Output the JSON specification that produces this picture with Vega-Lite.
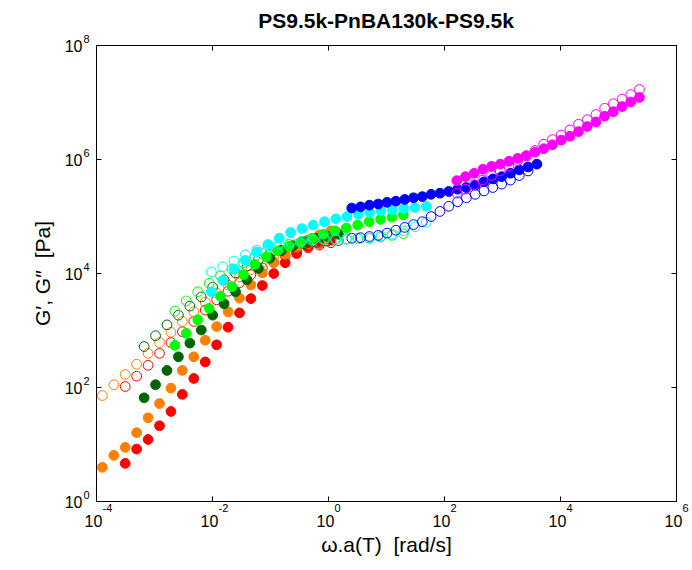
{
  "$schema": "https://vega.github.io/schema/vega-lite/v6.json",
  "width": 580,
  "height": 456,
  "autosize": {"type": "none"},
  "padding": {"left": 96, "top": 45, "right": 16, "bottom": 69},
  "background": "white",
  "title": {"text": "PS9.5k-PnBA130k-PS9.5k", "font": "Liberation Sans", "fontSize": 21, "fontWeight": "bold", "color": "#000", "anchor": "middle", "baseline": "bottom", "offset": 8, "dy": 28},
  "config": {
    "view": {"stroke": "#000", "strokeWidth": 1},
    "axis": {"labelFont": "Liberation Sans", "titleFont": "Liberation Sans", "labelColor": "#000", "titleColor": "#000", "tickColor": "#000", "domainColor": "#000", "grid": false, "labelFlush": false, "labelOverlap": false, "labelBound": false, "titleFontWeight": "normal"}
  },
  "data": {"values": [
    {"set":"red","mod":"G'","w":3.19e-4,"G":4.57},{"set":"red","mod":"G'","w":5.02e-4,"G":8.13},{"set":"red","mod":"G'","w":7.91e-4,"G":12.0},{"set":"red","mod":"G'","w":1.245e-3,"G":20.9},{"set":"red","mod":"G'","w":1.959e-3,"G":37.2},{"set":"red","mod":"G'","w":3.083e-3,"G":74.1},{"set":"red","mod":"G'","w":4.853e-3,"G":141},{"set":"red","mod":"G'","w":7.638e-3,"G":275},{"set":"red","mod":"G'","w":1.202e-2,"G":550},{"set":"red","mod":"G'","w":1.892e-2,"G":1122},{"set":"red","mod":"G'","w":2.979e-2,"G":1995},{"set":"red","mod":"G'","w":4.688e-2,"G":3548},{"set":"red","mod":"G'","w":7.379e-2,"G":6026},{"set":"red","mod":"G'","w":0.1161,"G":9772},{"set":"red","mod":"G'","w":0.1828,"G":15136},{"set":"red","mod":"G'","w":0.2877,"G":21878},{"set":"red","mod":"G'","w":0.4529,"G":28840},{"set":"red","mod":"G'","w":0.7129,"G":33113},{"set":"red","mod":"G'","w":1.122,"G":38019},
    {"set":"red","mod":"G''","w":3.19e-4,"G":102},{"set":"red","mod":"G''","w":5.02e-4,"G":155},{"set":"red","mod":"G''","w":7.91e-4,"G":240},{"set":"red","mod":"G''","w":1.245e-3,"G":389},{"set":"red","mod":"G''","w":1.959e-3,"G":603},{"set":"red","mod":"G''","w":3.083e-3,"G":933},{"set":"red","mod":"G''","w":4.853e-3,"G":1413},{"set":"red","mod":"G''","w":7.638e-3,"G":2239},{"set":"red","mod":"G''","w":1.202e-2,"G":3388},{"set":"red","mod":"G''","w":1.892e-2,"G":4786},{"set":"red","mod":"G''","w":2.979e-2,"G":6761},{"set":"red","mod":"G''","w":4.688e-2,"G":9333},{"set":"red","mod":"G''","w":7.379e-2,"G":12303},{"set":"red","mod":"G''","w":0.1161,"G":15488},{"set":"red","mod":"G''","w":0.1828,"G":19953},{"set":"red","mod":"G''","w":0.2877,"G":23988},{"set":"red","mod":"G''","w":0.4529,"G":27542},{"set":"red","mod":"G''","w":0.7129,"G":30903},{"set":"red","mod":"G''","w":1.122,"G":33884},
    {"set":"orange","mod":"G'","w":1.288e-4,"G":3.89},{"set":"orange","mod":"G'","w":2.028e-4,"G":6.31},{"set":"orange","mod":"G'","w":3.19e-4,"G":8.71},{"set":"orange","mod":"G'","w":5.02e-4,"G":15.8},{"set":"orange","mod":"G'","w":7.91e-4,"G":28.8},{"set":"orange","mod":"G'","w":1.245e-3,"G":51.3},{"set":"orange","mod":"G'","w":1.959e-3,"G":95.5},{"set":"orange","mod":"G'","w":3.083e-3,"G":195},{"set":"orange","mod":"G'","w":4.853e-3,"G":339},{"set":"orange","mod":"G'","w":7.638e-3,"G":661},{"set":"orange","mod":"G'","w":1.202e-2,"G":1148},{"set":"orange","mod":"G'","w":1.892e-2,"G":2089},{"set":"orange","mod":"G'","w":2.979e-2,"G":3631},{"set":"orange","mod":"G'","w":4.688e-2,"G":6166},{"set":"orange","mod":"G'","w":7.379e-2,"G":10000},{"set":"orange","mod":"G'","w":0.1161,"G":15136},{"set":"orange","mod":"G'","w":0.1828,"G":21380},{"set":"orange","mod":"G'","w":0.2877,"G":29512},{"set":"orange","mod":"G'","w":0.4529,"G":38019},{"set":"orange","mod":"G'","w":0.7129,"G":46774},{"set":"orange","mod":"G'","w":1.122,"G":54954},
    {"set":"orange","mod":"G''","w":1.288e-4,"G":70.8},{"set":"orange","mod":"G''","w":2.028e-4,"G":109.6},{"set":"orange","mod":"G''","w":3.19e-4,"G":166},{"set":"orange","mod":"G''","w":5.02e-4,"G":251},{"set":"orange","mod":"G''","w":7.91e-4,"G":389},{"set":"orange","mod":"G''","w":1.245e-3,"G":603},{"set":"orange","mod":"G''","w":1.959e-3,"G":912},{"set":"orange","mod":"G''","w":3.083e-3,"G":1413},{"set":"orange","mod":"G''","w":4.853e-3,"G":2089},{"set":"orange","mod":"G''","w":7.638e-3,"G":3090},{"set":"orange","mod":"G''","w":1.202e-2,"G":4467},{"set":"orange","mod":"G''","w":1.892e-2,"G":6166},{"set":"orange","mod":"G''","w":2.979e-2,"G":8511},{"set":"orange","mod":"G''","w":4.688e-2,"G":11482},{"set":"orange","mod":"G''","w":7.379e-2,"G":15136},{"set":"orange","mod":"G''","w":0.1161,"G":19498},{"set":"orange","mod":"G''","w":0.1828,"G":23988},{"set":"orange","mod":"G''","w":0.2877,"G":28184},{"set":"orange","mod":"G''","w":0.4529,"G":32359},{"set":"orange","mod":"G''","w":0.7129,"G":34674},{"set":"orange","mod":"G''","w":1.122,"G":36308},
    {"set":"darkgreen","mod":"G'","w":6.761e-4,"G":64.6},{"set":"darkgreen","mod":"G'","w":1.064e-3,"G":109.6},{"set":"darkgreen","mod":"G'","w":1.675e-3,"G":195},{"set":"darkgreen","mod":"G'","w":2.636e-3,"G":339},{"set":"darkgreen","mod":"G'","w":4.15e-3,"G":589},{"set":"darkgreen","mod":"G'","w":6.531e-3,"G":1000},{"set":"darkgreen","mod":"G'","w":1.028e-2,"G":1820},{"set":"darkgreen","mod":"G'","w":1.618e-2,"G":2884},{"set":"darkgreen","mod":"G'","w":2.547e-2,"G":4677},{"set":"darkgreen","mod":"G'","w":4.009e-2,"G":7586},{"set":"darkgreen","mod":"G'","w":6.31e-2,"G":12023},{"set":"darkgreen","mod":"G'","w":9.931e-2,"G":18197},{"set":"darkgreen","mod":"G'","w":0.1563,"G":24547},{"set":"darkgreen","mod":"G'","w":0.246,"G":30200},{"set":"darkgreen","mod":"G'","w":0.3873,"G":35481},{"set":"darkgreen","mod":"G'","w":0.6095,"G":40738},{"set":"darkgreen","mod":"G'","w":0.9594,"G":44668},{"set":"darkgreen","mod":"G'","w":1.51,"G":47863},
    {"set":"darkgreen","mod":"G''","w":6.761e-4,"G":513},{"set":"darkgreen","mod":"G''","w":1.064e-3,"G":794},{"set":"darkgreen","mod":"G''","w":1.675e-3,"G":1230},{"set":"darkgreen","mod":"G''","w":2.636e-3,"G":1820},{"set":"darkgreen","mod":"G''","w":4.15e-3,"G":2630},{"set":"darkgreen","mod":"G''","w":6.531e-3,"G":3802},{"set":"darkgreen","mod":"G''","w":1.028e-2,"G":5623},{"set":"darkgreen","mod":"G''","w":1.618e-2,"G":7586},{"set":"darkgreen","mod":"G''","w":2.547e-2,"G":10000},{"set":"darkgreen","mod":"G''","w":4.009e-2,"G":13183},{"set":"darkgreen","mod":"G''","w":6.31e-2,"G":16982},{"set":"darkgreen","mod":"G''","w":9.931e-2,"G":21380},{"set":"darkgreen","mod":"G''","w":0.1563,"G":25119},{"set":"darkgreen","mod":"G''","w":0.246,"G":29512},{"set":"darkgreen","mod":"G''","w":0.3873,"G":32359},{"set":"darkgreen","mod":"G''","w":0.6095,"G":34674},{"set":"darkgreen","mod":"G''","w":0.9594,"G":36308},{"set":"darkgreen","mod":"G''","w":1.51,"G":37154},
    {"set":"green","mod":"G'","w":2.291e-3,"G":537},{"set":"green","mod":"G'","w":3.606e-3,"G":871},{"set":"green","mod":"G'","w":5.675e-3,"G":1514},{"set":"green","mod":"G'","w":8.933e-3,"G":2399},{"set":"green","mod":"G'","w":1.406e-2,"G":3890},{"set":"green","mod":"G'","w":2.213e-2,"G":5754},{"set":"green","mod":"G'","w":3.483e-2,"G":9333},{"set":"green","mod":"G'","w":5.483e-2,"G":14125},{"set":"green","mod":"G'","w":8.63e-2,"G":19055},{"set":"green","mod":"G'","w":0.1358,"G":24547},{"set":"green","mod":"G'","w":0.2138,"G":29512},{"set":"green","mod":"G'","w":0.3365,"G":34674},{"set":"green","mod":"G'","w":0.5297,"G":40738},{"set":"green","mod":"G'","w":0.8337,"G":47863},{"set":"green","mod":"G'","w":1.312,"G":54954},{"set":"green","mod":"G'","w":2.065,"G":61660},{"set":"green","mod":"G'","w":3.251,"G":69183},{"set":"green","mod":"G'","w":5.117,"G":79433},{"set":"green","mod":"G'","w":8.054,"G":87096},{"set":"green","mod":"G'","w":12.68,"G":95499},{"set":"green","mod":"G'","w":19.95,"G":104713},
    {"set":"green","mod":"G''","w":2.291e-3,"G":2138},{"set":"green","mod":"G''","w":3.606e-3,"G":3236},{"set":"green","mod":"G''","w":5.675e-3,"G":4677},{"set":"green","mod":"G''","w":8.933e-3,"G":6607},{"set":"green","mod":"G''","w":1.406e-2,"G":8913},{"set":"green","mod":"G''","w":2.213e-2,"G":11749},{"set":"green","mod":"G''","w":3.483e-2,"G":15136},{"set":"green","mod":"G''","w":5.483e-2,"G":19498},{"set":"green","mod":"G''","w":8.63e-2,"G":23988},{"set":"green","mod":"G''","w":0.1358,"G":28184},{"set":"green","mod":"G''","w":0.2138,"G":31623},{"set":"green","mod":"G''","w":0.3365,"G":34674},{"set":"green","mod":"G''","w":0.5297,"G":37154},{"set":"green","mod":"G''","w":0.8337,"G":38905},{"set":"green","mod":"G''","w":1.312,"G":39811},{"set":"green","mod":"G''","w":2.065,"G":39811},{"set":"green","mod":"G''","w":3.251,"G":40738},{"set":"green","mod":"G''","w":5.117,"G":40738},{"set":"green","mod":"G''","w":8.054,"G":42658},{"set":"green","mod":"G''","w":12.68,"G":45709},{"set":"green","mod":"G''","w":19.95,"G":48978},
    {"set":"cyan","mod":"G'","w":9.772e-3,"G":4677},{"set":"cyan","mod":"G'","w":1.531e-2,"G":7413},{"set":"cyan","mod":"G'","w":2.399e-2,"G":11749},{"set":"cyan","mod":"G'","w":3.758e-2,"G":16596},{"set":"cyan","mod":"G'","w":5.888e-2,"G":23442},{"set":"cyan","mod":"G'","w":9.226e-2,"G":31623},{"set":"cyan","mod":"G'","w":0.1445,"G":40738},{"set":"cyan","mod":"G'","w":0.2265,"G":51286},{"set":"cyan","mod":"G'","w":0.3548,"G":60256},{"set":"cyan","mod":"G'","w":0.5559,"G":69183},{"set":"cyan","mod":"G'","w":0.871,"G":79433},{"set":"cyan","mod":"G'","w":1.365,"G":89125},{"set":"cyan","mod":"G'","w":2.138,"G":97724},{"set":"cyan","mod":"G'","w":3.35,"G":107152},{"set":"cyan","mod":"G'","w":5.248,"G":114815},{"set":"cyan","mod":"G'","w":8.222,"G":123027},{"set":"cyan","mod":"G'","w":12.88,"G":128825},{"set":"cyan","mod":"G'","w":20.18,"G":134896},{"set":"cyan","mod":"G'","w":31.62,"G":141254},{"set":"cyan","mod":"G'","w":49.55,"G":147911},
    {"set":"cyan","mod":"G''","w":9.772e-3,"G":10471},{"set":"cyan","mod":"G''","w":1.531e-2,"G":12882},{"set":"cyan","mod":"G''","w":2.399e-2,"G":16218},{"set":"cyan","mod":"G''","w":3.758e-2,"G":20893},{"set":"cyan","mod":"G''","w":5.888e-2,"G":25119},{"set":"cyan","mod":"G''","w":9.226e-2,"G":29512},{"set":"cyan","mod":"G''","w":0.1445,"G":32359},{"set":"cyan","mod":"G''","w":0.2265,"G":34674},{"set":"cyan","mod":"G''","w":0.3548,"G":36308},{"set":"cyan","mod":"G''","w":0.5559,"G":38019},{"set":"cyan","mod":"G''","w":0.871,"G":38905},{"set":"cyan","mod":"G''","w":1.365,"G":38905},{"set":"cyan","mod":"G''","w":2.138,"G":38905},{"set":"cyan","mod":"G''","w":3.35,"G":39811},{"set":"cyan","mod":"G''","w":5.248,"G":40738},{"set":"cyan","mod":"G''","w":8.222,"G":44668},{"set":"cyan","mod":"G''","w":12.88,"G":47863},{"set":"cyan","mod":"G''","w":20.18,"G":54954},{"set":"cyan","mod":"G''","w":31.62,"G":64565},{"set":"cyan","mod":"G''","w":49.55,"G":77625},
    {"set":"blue","mod":"G'","w":2.57,"G":138038},{"set":"blue","mod":"G'","w":3.648,"G":144544},{"set":"blue","mod":"G'","w":5.176,"G":154882},{"set":"blue","mod":"G'","w":7.345,"G":162181},{"set":"blue","mod":"G'","w":10.42,"G":173780},{"set":"blue","mod":"G'","w":14.79,"G":181970},{"set":"blue","mod":"G'","w":20.99,"G":194984},{"set":"blue","mod":"G'","w":29.79,"G":208930},{"set":"blue","mod":"G'","w":42.27,"G":218776},{"set":"blue","mod":"G'","w":59.98,"G":239883},{"set":"blue","mod":"G'","w":85.11,"G":251189},{"set":"blue","mod":"G'","w":120.8,"G":269153},{"set":"blue","mod":"G'","w":171.4,"G":295121},{"set":"blue","mod":"G'","w":243.2,"G":316228},{"set":"blue","mod":"G'","w":345.1,"G":346737},{"set":"blue","mod":"G'","w":489.8,"G":398107},{"set":"blue","mod":"G'","w":695.0,"G":446684},{"set":"blue","mod":"G'","w":986.3,"G":489779},{"set":"blue","mod":"G'","w":1400,"G":562341},{"set":"blue","mod":"G'","w":1986,"G":645654},{"set":"blue","mod":"G'","w":2818,"G":724436},{"set":"blue","mod":"G'","w":4000,"G":812831},
    {"set":"blue","mod":"G''","w":2.57,"G":40738},{"set":"blue","mod":"G''","w":3.648,"G":41687},{"set":"blue","mod":"G''","w":5.176,"G":43652},{"set":"blue","mod":"G''","w":7.345,"G":45709},{"set":"blue","mod":"G''","w":10.42,"G":50119},{"set":"blue","mod":"G''","w":14.79,"G":56234},{"set":"blue","mod":"G''","w":20.99,"G":63096},{"set":"blue","mod":"G''","w":29.79,"G":70795},{"set":"blue","mod":"G''","w":42.27,"G":79433},{"set":"blue","mod":"G''","w":59.98,"G":97724},{"set":"blue","mod":"G''","w":85.11,"G":120226},{"set":"blue","mod":"G''","w":120.8,"G":147911},{"set":"blue","mod":"G''","w":171.4,"G":177828},{"set":"blue","mod":"G''","w":243.2,"G":208930},{"set":"blue","mod":"G''","w":345.1,"G":239883},{"set":"blue","mod":"G''","w":489.8,"G":275423},{"set":"blue","mod":"G''","w":695.0,"G":316228},{"set":"blue","mod":"G''","w":986.3,"G":363078},{"set":"blue","mod":"G''","w":1400,"G":426580},{"set":"blue","mod":"G''","w":1986,"G":512861},{"set":"blue","mod":"G''","w":2818,"G":616595},
    {"set":"magenta","mod":"G'","w":166.0,"G":416869},{"set":"magenta","mod":"G'","w":234.4,"G":489779},{"set":"magenta","mod":"G'","w":331.1,"G":562341},{"set":"magenta","mod":"G'","w":467.7,"G":660693},{"set":"magenta","mod":"G'","w":660.7,"G":741310},{"set":"magenta","mod":"G'","w":933.3,"G":812831},{"set":"magenta","mod":"G'","w":1318,"G":912011},{"set":"magenta","mod":"G'","w":1862,"G":1023293},{"set":"magenta","mod":"G'","w":2630,"G":1148154},{"set":"magenta","mod":"G'","w":3715,"G":1318257},{"set":"magenta","mod":"G'","w":5248,"G":1513561},{"set":"magenta","mod":"G'","w":7413,"G":1778279},{"set":"magenta","mod":"G'","w":10471,"G":2137962},{"set":"magenta","mod":"G'","w":14791,"G":2511886},{"set":"magenta","mod":"G'","w":20893,"G":3019952},{"set":"magenta","mod":"G'","w":29512,"G":3715352},{"set":"magenta","mod":"G'","w":41687,"G":4466836},{"set":"magenta","mod":"G'","w":58884,"G":5623413},{"set":"magenta","mod":"G'","w":83176,"G":6760830},{"set":"magenta","mod":"G'","w":117490,"G":8317638},{"set":"magenta","mod":"G'","w":165959,"G":10000000},{"set":"magenta","mod":"G'","w":234423,"G":12022644},
    {"set":"magenta","mod":"G''","w":166.0,"G":251189},{"set":"magenta","mod":"G''","w":234.4,"G":295121},{"set":"magenta","mod":"G''","w":331.1,"G":354813},{"set":"magenta","mod":"G''","w":467.7,"G":426580},{"set":"magenta","mod":"G''","w":660.7,"G":512861},{"set":"magenta","mod":"G''","w":933.3,"G":616595},{"set":"magenta","mod":"G''","w":1318,"G":758578},{"set":"magenta","mod":"G''","w":1862,"G":933254},{"set":"magenta","mod":"G''","w":2630,"G":1122018},{"set":"magenta","mod":"G''","w":3715,"G":1412538},{"set":"magenta","mod":"G''","w":5248,"G":1819701},{"set":"magenta","mod":"G''","w":7413,"G":2187762},{"set":"magenta","mod":"G''","w":10471,"G":2630268},{"set":"magenta","mod":"G''","w":14791,"G":3235937},{"set":"magenta","mod":"G''","w":20893,"G":4073803},{"set":"magenta","mod":"G''","w":29512,"G":4897788},{"set":"magenta","mod":"G''","w":41687,"G":6025596},{"set":"magenta","mod":"G''","w":58884,"G":7762471},{"set":"magenta","mod":"G''","w":83176,"G":9332543},{"set":"magenta","mod":"G''","w":117490,"G":11220185},{"set":"magenta","mod":"G''","w":165959,"G":13489629},{"set":"magenta","mod":"G''","w":234423,"G":16595869}
  ]},
  "resolve": {"axis": {"x": "independent", "y": "independent"}},
  "layer": [
    {
      "mark": {"type": "point", "shape": "circle", "size": 95, "strokeWidth": 1, "opacity": 1, "filled": false},
      "encoding": {
        "x": {"field": "w", "type": "quantitative", "scale": {"type": "log", "domain": [0.0001, 1000000], "nice": false},
          "axis": {"orient": "bottom", "values": [0.0001, 0.01, 1, 100, 10000, 1000000], "labelExpr": "'10'", "labelFontSize": 16, "labelPadding": 17, "labelOffset": -3, "tickSize": -5, "title": "ω.a(T) \u00a0[rad/s]", "titleFontSize": 21, "titlePadding": 5}},
        "y": {"field": "G", "type": "quantitative", "scale": {"type": "log", "domain": [1, 100000000], "nice": false},
          "axis": {"orient": "left", "values": [1, 100, 10000, 1000000, 100000000], "labelExpr": "'10'", "labelFontSize": 16, "labelPadding": 19, "labelOffset": 1, "tickSize": -5, "title": "G′, G′′ \u00a0[Pa]", "titleFontSize": 21, "titlePadding": 11}},
        "stroke": {"field": "set", "type": "nominal", "legend": null,
          "scale": {"domain": ["red", "orange", "darkgreen", "green", "cyan", "blue", "magenta"], "range": ["#ff0000", "#ff8000", "#006400", "#00ff00", "#00ffff", "#0000ff", "#ff00ff"]}},
        "fill": {"field": "set", "type": "nominal", "legend": null,
          "scale": {"domain": ["red", "orange", "darkgreen", "green", "cyan", "blue", "magenta"], "range": ["#ff0000", "#ff8000", "#006400", "#00ff00", "#00ffff", "#0000ff", "#ff00ff"]},
          "condition": {"test": "datum.mod === \"G''\"", "value": "transparent"}}
      }
    },
    {
      "mark": {"type": "point", "opacity": 0},
      "encoding": {
        "x": {"field": "w", "type": "quantitative", "scale": {"type": "log", "domain": [0.0001, 1000000], "nice": false},
          "axis": {"orient": "bottom", "values": [0.0001, 0.01, 1, 100, 10000, 1000000], "labelExpr": "'' + round(log(datum.value) / LN10)", "labelFontSize": 11, "labelAlign": "left", "labelOffset": 6, "labelPadding": 1, "ticks": false, "domain": false, "title": null}},
        "y": {"field": "G", "type": "quantitative", "scale": {"type": "log", "domain": [1, 100000000], "nice": false},
          "axis": {"orient": "left", "values": [1, 100, 10000, 1000000, 100000000], "labelExpr": "'' + round(log(datum.value) / LN10)", "labelFontSize": 11, "labelAlign": "left", "labelBaseline": "middle", "labelPadding": 13, "labelOffset": -6, "ticks": false, "domain": false, "title": null}}
      }
    },
    {
      "mark": {"type": "point", "opacity": 0},
      "encoding": {
        "x": {"field": "w", "type": "quantitative", "scale": {"type": "log", "domain": [0.0001, 1000000], "nice": false},
          "axis": {"orient": "top", "values": [0.0001, 0.01, 1, 100, 10000, 1000000], "labels": false, "tickSize": -5, "title": null}},
        "y": {"field": "G", "type": "quantitative", "scale": {"type": "log", "domain": [1, 100000000], "nice": false},
          "axis": {"orient": "right", "values": [1, 100, 10000, 1000000, 100000000], "labels": false, "tickSize": -5, "title": null}}
      }
    }
  ]
}
